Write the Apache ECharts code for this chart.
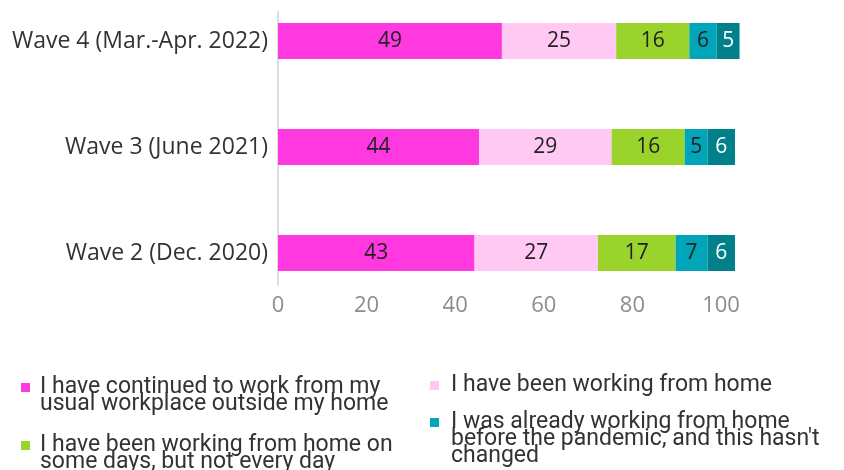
<!DOCTYPE html>
<html>
<head>
<meta charset="utf-8">
<script src="https://cdn.jsdelivr.net/npm/echarts@6/dist/echarts.min.js"></script>
<style>
  html, body { margin: 0; padding: 0; background: #fff; }
  #chart { width: 844px; height: 470px; }
</style>
</head>
<body>
<div id="chart"></div>
<script>
// waves, bottom to top
const waves = ['Wave 2 (Dec. 2020)', 'Wave 3 (June 2021)', 'Wave 4 (Mar.-Apr. 2022)'];
const seriesNames = [
  'I have continued to work from my\nusual workplace outside my home',
  'I have been working from home',
  'I have been working from home on\nsome days, but not every day',
  'I was already working from home\nbefore the pandemic, and this hasn\'t\nchanged',
  'Other'
];
const workplace = [43, 44, 49];
const fromHome = [27, 29, 25];
const someDays = [17, 16, 16];
const alreadyHome = [7, 5, 6];
const other = [6, 6, 5];
const xTicks = [0, 20, 40, 60, 80, 100];

const colors = ['#ff38e0', '#ffc9f4', '#9ad32b', '#00a5ba', '#00808a'];
const values = [workplace, fromHome, someDays, alreadyHome, other];

let chart = echarts.init(document.getElementById('chart'));

const series = values.map(function (v, i) {
  return {
    name: seriesNames[i],
    type: 'bar',
    stack: 'all',
    xAxisIndex: 1,
    yAxisIndex: 1,
    barWidth: 36,
    clip: false,
    data: v,
    itemStyle: { color: colors[i] },
    label: {
      show: true,
      position: 'inside',
      color: i === 4 ? '#ffffff' : '#222',
      fontFamily: 'Open Sans',
      fontSize: 21
    }
  };
});

// icon with square at top so it lines up with the first text line
function icon(w, h) {
  return 'path://M0,0H9V9H0Z M' + w + ',' + h + 'L' + w + ',' + h;
}
function legendItem(idx, left, top, w, lines) {
  const h = 9 + (lines - 1) * 17;
  return {
    data: [seriesNames[idx]],
    left: left,
    top: top,
    padding: 0,
    itemWidth: w,
    itemHeight: h,
    icon: icon(w, h),
    selectedMode: false,
    textStyle: {
      fontFamily: 'Roboto',
      fontSize: 23,
      lineHeight: 17,
      color: '#333'
    }
  };
}

let option = {
  animation: false,
  backgroundColor: '#fff',
  grid: [
    { left: 278, top: 12, width: 443, height: 273 },
    { left: 278, top: 41, width: 457, height: 212 }
  ],
  xAxis: [
    {
      gridIndex: 0,
      type: 'value',
      min: 0,
      max: 100,
      interval: 20,
      axisLine: { show: false },
      axisTick: { show: false },
      splitLine: { show: false },
      axisLabel: {
        margin: 10,
        color: '#8c8c8c',
        fontFamily: 'Open Sans',
        fontSize: 22
      }
    },
    {
      gridIndex: 1,
      type: 'value',
      min: 0,
      max: 100,
      show: false
    }
  ],
  yAxis: [
    {
      gridIndex: 0,
      type: 'value',
      axisLine: { show: true, lineStyle: { color: '#dedede', width: 2 } },
      axisTick: { show: false },
      axisLabel: { show: false },
      splitLine: { show: false }
    },
    {
      gridIndex: 1,
      type: 'category',
      data: waves,
      boundaryGap: false,
      axisLine: { show: false },
      axisTick: { show: false },
      axisLabel: {
        margin: 10,
        color: '#333',
        fontFamily: 'Open Sans',
        fontSize: 23
      }
    }
  ],
  legend: [
    legendItem(0, 21, 376, 14, 2),
    legendItem(2, 21, 434, 14, 2),
    legendItem(1, 430, 374, 16, 1),
    legendItem(3, 430, 411, 16, 3)
  ],
  series: series
};

chart.setOption(option);
</script>
</body>
</html>
